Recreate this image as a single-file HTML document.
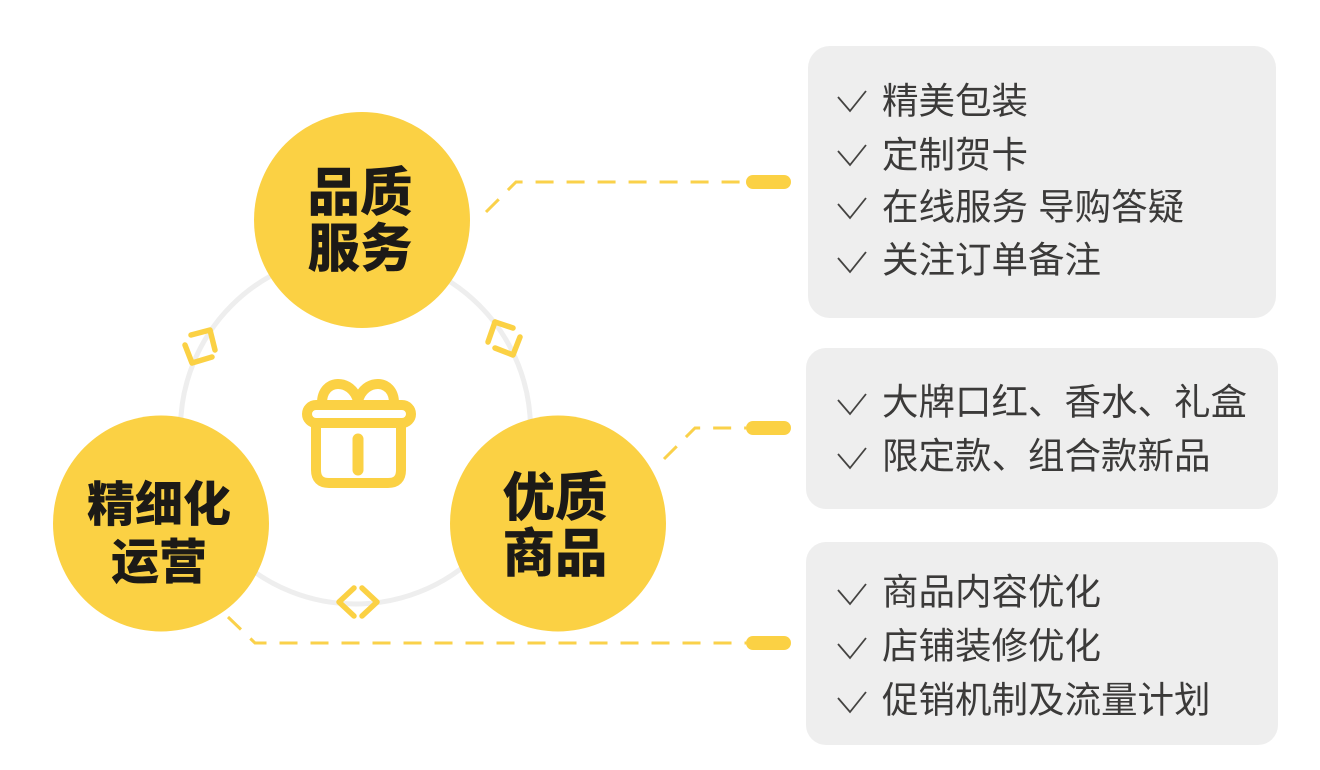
<!DOCTYPE html>
<html><head><meta charset="utf-8"><style>
html,body{margin:0;padding:0;background:#fff}
svg{display:block}
.c{font-family:"Liberation Sans","Noto Sans CJK SC",sans-serif;font-weight:900;fill:#1c1a17;text-anchor:middle;dominant-baseline:central}
.t{font-family:"Liberation Sans","Noto Sans CJK SC",sans-serif;font-weight:400;fill:#3b3a39;font-size:36.5px;dominant-baseline:central}
</style></head><body>
<svg width="1320" height="770" viewBox="0 0 1320 770" xmlns="http://www.w3.org/2000/svg">
<rect width="1320" height="770" fill="#fff"/>
<circle cx="355.500" cy="429" r="175" fill="none" stroke="#eeeeee" stroke-width="5"/>
<g fill="none" stroke="#fad14a" stroke-width="3">
<path d="M486 212L516 182H746" stroke-dasharray="18 13"/>
<path d="M664 459L695 428H746" stroke-dasharray="18 13"/>
<path d="M228 617L255 643H746" stroke-dasharray="18 13"/>
</g>
<g fill="#fbd144">
<rect x="746" y="175" width="45" height="14" rx="7"/>
<rect x="746" y="421" width="45" height="14" rx="7"/>
<rect x="746" y="636" width="45" height="14" rx="7"/>
<circle cx="362" cy="220" r="108"/>
<circle cx="558" cy="523.500" r="108"/>
<circle cx="161" cy="523.500" r="108"/>
</g>
<g fill="none" stroke="#fbd144" stroke-width="5.500" stroke-linecap="round" stroke-linejoin="round">
<path d="M354 588L339 602L354 616"/><path d="M362 588L377 602L362 616"/>
<path d="M191 335L210 330L215 350"/><path d="M185 345L192 363L212 357"/>
<path d="M495 322L513 328"/><path d="M495 322L488 342"/><path d="M520 337L513 355L495 348"/>
</g>
<g fill="none" stroke="#fbd144" stroke-width="10" stroke-linecap="round" stroke-linejoin="round">
<rect x="307" y="405" width="104" height="18" rx="9"/>
<path d="M316 426V470Q316 483 329 483H388Q401 483 401 470V426"/>
<path d="M322 403C322 378 352 378 358 401C364 378 394 378 394 403" />
<path d="M358 439V470" stroke-width="11"/>
</g>
<text class="c" x="360" y="193" font-size="52.500">品质</text>
<text class="c" x="360" y="249" font-size="52.500">服务</text>
<text class="c" x="159" y="505.500" font-size="48">精细化</text>
<text class="c" x="159" y="563" font-size="48">运营</text>
<text class="c" x="555" y="498" font-size="52.500">优质</text>
<text class="c" x="555" y="554" font-size="52.500">商品</text>
<rect x="808" y="46" width="468" height="272" rx="22" fill="#eeeeee"/>
<rect x="806" y="348" width="472" height="161" rx="20" fill="#eeeeee"/>
<rect x="806" y="542" width="472" height="203" rx="20" fill="#eeeeee"/>
<g fill="none" stroke="#444341" stroke-width="1.800">
<path d="M838 97L850 111L866 91"/>
<path d="M838 151L850 165L866 145"/>
<path d="M838 204L850 218L866 198"/>
<path d="M838 258L850 272L866 252"/>
<path d="M838 400L850 414L866 394"/>
<path d="M838 454L850 468L866 448"/>
<path d="M838 590L850 604L866 584"/>
<path d="M838 644L850 658L866 638"/>
<path d="M838 698L850 712L866 692"/>
</g>
<text class="t" x="882" y="101">精美包装</text>
<text class="t" x="882" y="155">定制贺卡</text>
<text class="t" x="882" y="207">在线服务 导购答疑</text>
<text class="t" x="882" y="260">关注订单备注</text>
<text class="t" x="882" y="402">大牌口红、香水、礼盒</text>
<text class="t" x="882" y="456">限定款、组合款新品</text>
<text class="t" x="882" y="592">商品内容优化</text>
<text class="t" x="882" y="646">店铺装修优化</text>
<text class="t" x="882" y="700">促销机制及流量计划</text>
</svg>
</body></html>
